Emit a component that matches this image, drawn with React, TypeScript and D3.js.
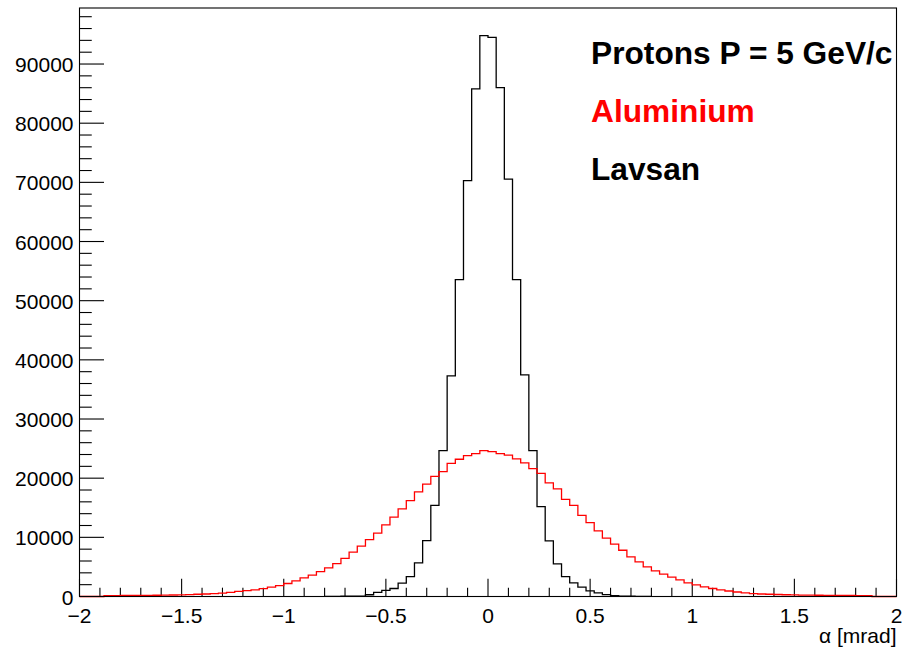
import React from "react";
import * as d3 from "d3";

const BIN_WIDTH = 0.04;
const X_MIN = -2;
const X_MAX = 2;
const Y_MAX = 99470;

// Aluminium (red) bin contents, 100 bins from -2 to 2
const aluminiumStart = -2;
const aluminium = [
  0, 0, 0,
  150, 160, 170, 180, 190, 200, 210, 230, 250, 270,
  330, 380, 420, 470, 580, 700, 850, 1000, 1120, 1330,
  1600, 1850, 2200, 2650, 3150, 3600, 4200, 4850, 5550, 6450,
  7500, 8500, 9600, 10700, 12100, 13400, 14800, 16200, 17700, 19000,
  20300, 21100, 22500, 23200, 23800, 24150, 24650,
  24500, 24150, 23900, 23250, 22580, 21600, 20800, 19200, 18200, 16400,
  15400, 13700, 12500, 11100, 9850, 8850, 7820, 6700, 5850, 5000,
  4330, 3770, 3270, 2815, 2300, 1970, 1640, 1350, 1130, 930,
  760, 620, 500, 420, 380, 340, 300, 260, 240, 220,
  210, 200, 190, 180, 170, 160, 150,
  0, 0, 0,
];

// Lavsan (black) bin contents, 40 bins from -0.8 to 0.8
const lavsanStart = -0.8;
const lavsan = [
  30, 30, 40, 50, 80, 300, 700, 1050, 1350, 2250,
  3350, 5700, 9450, 15400, 24650, 37300, 53550, 70300, 85800, 94800,
  94500, 86000, 70550, 53550, 37450, 24650, 15200, 9400, 5500, 3350,
  2300, 1600, 950, 600, 330, 150, 60, 40, 30, 30,
];

const xMajorTicks = [-2, -1.5, -1, -0.5, 0, 0.5, 1, 1.5, 2];
const xTickLabels = ["\u22122", "\u22121.5", "\u22121", "\u22120.5", "0", "0.5", "1", "1.5", "2"];
const yMajorTicks = [0, 10000, 20000, 30000, 40000, 50000, 60000, 70000, 80000, 90000];
const yTickLabels = ["0", "10000", "20000", "30000", "40000", "50000", "60000", "70000", "80000", "90000"];

const legendLines = ["Protons P = 5 GeV/c", "Aluminium", "Lavsan"];
const legendColors = ["#000000", "#ff0000", "#000000"];

const W = 902;
const H = 650;
const M = { left: 79.5, right: 896.5, top: 8, bottom: 596.5 };

export default function App() {
  const x = d3.scaleLinear().domain([X_MIN, X_MAX]).range([M.left, M.right]);
  const y = d3.scaleLinear().domain([0, Y_MAX]).range([M.bottom, M.top]);

  const histPath = (start: number, vals: number[]) => {
    const p = d3.path();
    p.moveTo(x(start), y(0));
    vals.forEach((v, i) => {
      const x0 = start + i * BIN_WIDTH;
      const x1 = x0 + BIN_WIDTH;
      p.lineTo(x(x0), y(v));
      p.lineTo(x(x1), y(v));
    });
    p.lineTo(x(start + vals.length * BIN_WIDTH), y(0));
    return p.toString();
  };

  const xMinor: number[] = d3.range(-20, 21).map((k) => k / 10).filter((v) => Math.abs(v * 2 - Math.round(v * 2)) > 1e-6);
  const yMinor: number[] = d3.range(0, 99000, 2000).filter((v) => v % 10000 !== 0);

  const plotW = M.right - M.left;
  const plotH = M.bottom - M.top;
  const xMajLen = 0.03 * plotH;
  const yMajLen = 0.03 * plotW;

  const font = "'Liberation Sans', Arial, Helvetica, sans-serif";

  return (
    <svg width={W} height={H} style={{ position: "absolute", left: 0, top: 0, background: "#fff" }} fontFamily={font}>
      <rect x={0} y={0} width={W} height={H} fill="#fff" />
      {/* ticks */}
      <g stroke="#000" strokeWidth={1.1}>
        {xMajorTicks.map((t) => (
          <line key={"xM" + t} x1={x(t)} x2={x(t)} y1={M.bottom} y2={M.bottom - xMajLen} />
        ))}
        {xMinor.map((t) => (
          <line key={"xm" + t} x1={x(t)} x2={x(t)} y1={M.bottom} y2={M.bottom - xMajLen / 2} />
        ))}
        {yMajorTicks.map((t) => (
          <line key={"yM" + t} x1={M.left} x2={M.left + yMajLen} y1={y(t)} y2={y(t)} />
        ))}
        {yMinor.map((t) => (
          <line key={"ym" + t} x1={M.left} x2={M.left + yMajLen / 2} y1={y(t)} y2={y(t)} />
        ))}
      </g>
      {/* histograms */}
      <path d={histPath(lavsanStart, lavsan)} fill="none" stroke="#000" strokeWidth={1.3} />
      <path d={histPath(aluminiumStart, aluminium)} fill="none" stroke="#ff0000" strokeWidth={1.3} />
      {/* frame */}
      <rect x={M.left} y={M.top} width={plotW} height={plotH} fill="none" stroke="#000" strokeWidth={1.1} />
      {/* tick labels */}
      <g fontSize={21} fill="#000">
        {xMajorTicks.map((t, i) => (
          <text key={"xl" + t} x={x(t)} y={622.5} textAnchor="middle">{xTickLabels[i]}</text>
        ))}
        {yMajorTicks.map((t, i) => (
          <text key={"yl" + t} x={73.5} y={y(t) + 8} textAnchor="end">{yTickLabels[i]}</text>
        ))}
        <text x={M.right} y={643} textAnchor="end">α [mrad]</text>
      </g>
      {/* legend text */}
      <g fontSize={31.7} fontWeight="bold">
        {legendLines.map((s, i) => (
          <text key={s} x={591} y={64 + i * 58} fill={legendColors[i]}>{s}</text>
        ))}
      </g>
    </svg>
  );
}
